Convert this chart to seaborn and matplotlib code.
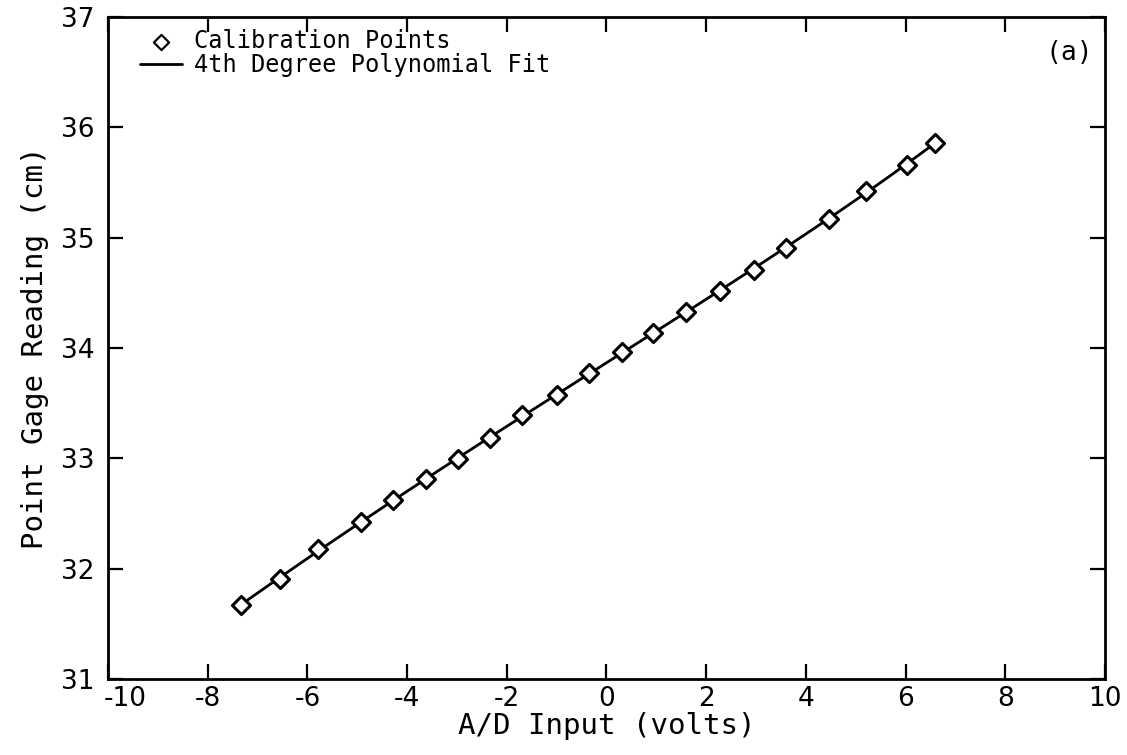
import numpy as np
import pandas as pd
import matplotlib
matplotlib.use("Agg")
import matplotlib.pyplot as plt
import matplotlib.transforms as mtransforms
import seaborn as sns

# Calibration data
volts = [-7.34, -6.55, -5.78, -4.93, -4.29, -3.63, -2.97, -2.34, -1.70, -1.00,
         -0.35, 0.31, 0.93, 1.59, 2.27, 2.95, 3.61, 4.46, 5.21, 6.02, 6.59]
gage_cm = [31.67, 31.91, 32.18, 32.42, 32.62, 32.81, 32.99, 33.18, 33.39, 33.57,
           33.77, 33.96, 34.14, 34.33, 34.52, 34.71, 34.91, 35.17, 35.42, 35.66, 35.86]
x_ticks = [-10, -8, -6, -4, -2, 0, 2, 4, 6, 8, 10]
y_ticks = [31, 32, 33, 34, 35, 36, 37]

sns.set_theme(style="ticks")
plt.rcParams['font.family'] = ['DejaVu Sans']
plt.rcParams['axes.unicode_minus'] = False

pts = pd.DataFrame({"x": volts, "y": gage_cm})
coef = np.polyfit(volts, gage_cm, 4)
xf = np.linspace(min(volts), max(volts), 200)
fit = pd.DataFrame({"x": xf, "y": np.polyval(coef, xf)})

fig = plt.figure(figsize=(11.27, 7.55), dpi=100)
ax = fig.add_axes([0.0958, 0.1007, 0.8847, 0.8768])

sns.lineplot(data=fit, x="x", y="y", ax=ax, color="black", linewidth=2.0,
             label="4th Degree Polynomial Fit", zorder=2)
sns.scatterplot(data=pts, x="x", y="y", ax=ax, marker="D", s=85,
                facecolor="white", edgecolor="black", linewidth=2.2,
                label="Calibration Points", zorder=3)

ax.set_xlim(-10, 10)
ax.set_ylim(31, 37)
ax.set_xticks(x_ticks)
ax.set_yticks(y_ticks)
ax.tick_params(direction="in", length=11, width=1.6, top=True, right=True,
               labelsize=19, colors="black")
ax.tick_params(axis="x", pad=5)
ax.tick_params(axis="y", pad=10)
for s in ax.spines.values():
    s.set_linewidth(2.0)
    s.set_color("black")

# shift the first x tick label right, as in the reference, to clear the "31"
fig.canvas.draw()
first = ax.get_xticklabels()[0]
first.set_transform(first.get_transform() +
                    mtransforms.ScaledTranslation(0.17, 0, fig.dpi_scale_trans))

mono = "DejaVu Sans Mono"
ax.set_xlabel("A/D Input (volts)", fontsize=21, family=mono, labelpad=0, color="black")
ax.set_ylabel("Point Gage Reading (cm)", fontsize=21, family=mono, labelpad=8, color="black")

handles, labels = ax.get_legend_handles_labels()
order = [labels.index("Calibration Points"), labels.index("4th Degree Polynomial Fit")]
leg = ax.legend([handles[i] for i in order], [labels[i] for i in order],
                loc="upper left", frameon=False, prop={"family": mono, "size": 17},
                handlelength=1.8, handletextpad=0.5, labelspacing=0.0,
                borderaxespad=0.1, bbox_to_anchor=(0.02, 1.0))
for t in leg.get_texts():
    t.set_color("black")
for h in leg.legend_handles:
    try:
        h.set_sizes([60])
        h.set_linewidth(1.6)
    except Exception:
        pass

ax.text(0.988, 0.965, "(a)", transform=ax.transAxes, ha="right", va="top",
        fontsize=19, family=mono, color="black")

fig.savefig("out.png", dpi=100)
